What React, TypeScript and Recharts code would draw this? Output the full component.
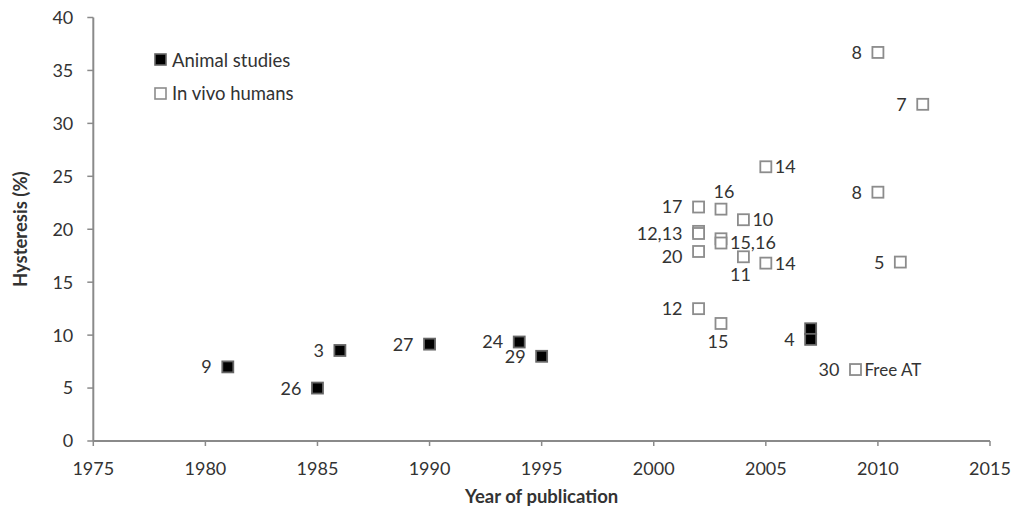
import React from 'react';
import { ScatterChart, Scatter, XAxis, YAxis, Label, Legend } from 'recharts';

const xTicks = [1975, 1980, 1985, 1990, 1995, 2000, 2005, 2010, 2015];
const yTicks = [0, 5, 10, 15, 20, 25, 30, 35, 40];

const seriesNames = ['Animal studies', 'In vivo humans'];

const animalYears = [1981, 1985, 1986, 1990, 1994, 1995, 2007, 2007];
const animalValues = [7.0, 5.0, 8.55, 9.15, 9.35, 8.0, 10.6, 9.6];
const animalLabels = ['9', '26', '3', '27', '24', '29', '', '4'];
const animalLabelSides = ['left', 'left', 'left', 'left', 'left', 'left', 'left', 'left'];

const humanYears = [2010, 2012, 2005, 2010, 2003, 2002, 2004, 2002, 2002, 2003, 2003, 2002, 2004, 2005, 2011, 2002, 2003, 2009];
const humanValues = [36.7, 31.8, 25.9, 23.5, 21.9, 22.1, 20.9, 19.8, 19.6, 19.1, 18.7, 17.9, 17.4, 16.8, 16.9, 12.5, 11.1, 6.75];
const humanLabels = ['8', '7', '14', '8', '16', '17', '10', '', '12,13', '', '15,16', '20', '11', '14', '5', '12', '15', '30'];
const humanLabelSides = ['left', 'left', 'right', 'left', 'top', 'left', 'right', 'left', 'left', 'right', 'right', 'leftBelow', 'bottom', 'right', 'left', 'left', 'bottom', 'left'];
const humanNotes = ['', '', '', '', '', '', '', '', '', '', '', '', '', '', '', '', '', 'Free AT'];

const animalData = animalYears.map((year, i) => ({
  year,
  value: animalValues[i],
  label: animalLabels[i],
  side: animalLabelSides[i],
  note: '',
}));

const humanData = humanYears.map((year, i) => ({
  year,
  value: humanValues[i],
  label: humanLabels[i],
  side: humanLabelSides[i],
  note: humanNotes[i],
}));

const FONT = 'Lato, "Open Sans", sans-serif';
const TEXT = '#333333';
const AXIS = '#8a8a8a';

function Marker(props: any) {
  const { cx, cy, payload, filled } = props;
  if (cx == null || cy == null) return null;
  const size = 11;
  let labelEl = null;
  if (payload && payload.label) {
    let x = cx;
    let y = cy;
    let anchor: any = 'middle';
    if (payload.side === 'left') {
      x = cx - 16;
      anchor = 'end';
    } else if (payload.side === 'leftBelow') {
      x = cx - 16;
      y = cy + 5;
      anchor = 'end';
    } else if (payload.side === 'right') {
      x = cx + 9;
      anchor = 'start';
    } else if (payload.side === 'top') {
      x = cx + 3;
      y = cy - 18;
    } else {
      x = cx - 3;
      y = cy + 18;
    }
    labelEl = (
      <text x={x} y={y} dy="0.36em" textAnchor={anchor} fontFamily={FONT} fontSize={18} fill={TEXT}>
        {payload.label}
      </text>
    );
  }
  let noteEl = null;
  if (payload && payload.note) {
    noteEl = (
      <text x={cx + 9} y={cy} dy="0.36em" textAnchor="start" fontFamily={FONT} fontSize={17} fill={TEXT}>
        {payload.note}
      </text>
    );
  }
  return (
    <g>
      <rect
        x={cx - size / 2}
        y={cy - size / 2}
        width={size}
        height={size}
        fill={filled ? '#000000' : '#ffffff'}
        stroke={filled ? '#666666' : '#8c8c8c'}
        strokeWidth={1.8}
      />
      {labelEl}
      {noteEl}
    </g>
  );
}

function LegendBox() {
  return (
    <div style={{ fontFamily: FONT, fontSize: 18.5, color: TEXT }}>
      {seriesNames.map((n, i) => (
        <div key={n} style={{ display: 'flex', alignItems: 'center', height: 33.5, whiteSpace: 'nowrap' }}>
          <svg width={13} height={13} style={{ display: 'block' }}>
            <rect
              x={1}
              y={1}
              width={11}
              height={11}
              fill={i === 0 ? '#000000' : '#ffffff'}
              stroke={i === 0 ? '#666666' : '#8c8c8c'}
              strokeWidth={1.6}
            />
          </svg>
          <span style={{ marginLeft: 5 }}>{n}</span>
        </div>
      ))}
    </div>
  );
}

function YTitle(props: any) {
  const vb = props.viewBox || { x: 0, y: 0, width: 0, height: 0 };
  const x = 20;
  const y = vb.y + vb.height / 2;
  return (
    <text
      x={x}
      y={y}
      transform={`rotate(-90 ${x} ${y})`}
      textAnchor="middle"
      dy="0.36em"
      fontFamily={FONT}
      fontSize={18.5}
      fontWeight="bold"
      fill={TEXT}
    >
      Hysteresis (%)
    </text>
  );
}

export default function App() {
  return (
    <div style={{ position: 'absolute', left: 0, top: 0, width: 1015, height: 512 }}>
      <ScatterChart width={1015} height={512} margin={{ top: 17.5, right: 25, bottom: 0, left: 0 }}>
        <XAxis
          type="number"
          dataKey="year"
          domain={[1975, 2015]}
          ticks={xTicks}
          interval={0}
          allowDataOverflow
          height={71}
          tickSize={5}
          tickMargin={16}
          axisLine={{ stroke: AXIS, strokeWidth: 2 }}
          tickLine={{ stroke: AXIS, strokeWidth: 1.5 }}
          tick={{ fill: TEXT, fontFamily: FONT, fontSize: 18 }}
        >
          <Label
            value="Year of publication"
            position="insideBottom"
            offset={9}
            fill={TEXT}
            fontFamily={FONT}
            fontSize={18.5}
            fontWeight="bold"
          />
        </XAxis>
        <YAxis
          type="number"
          dataKey="value"
          domain={[0, 40]}
          ticks={yTicks}
          interval={0}
          allowDataOverflow
          width={93.3}
          tickSize={6}
          tickMargin={14}
          axisLine={{ stroke: AXIS, strokeWidth: 2 }}
          tickLine={{ stroke: AXIS, strokeWidth: 1.5 }}
          tick={{ fill: TEXT, fontFamily: FONT, fontSize: 18 }}
        >
          <Label content={<YTitle />} />
        </YAxis>
        <Legend
          layout="vertical"
          align="center"
          verticalAlign="middle"
          wrapperStyle={{ left: 154, top: 43, width: 220 }}
          content={() => <LegendBox />}
        />
        <Scatter
          name={seriesNames[0]}
          data={animalData}
          isAnimationActive={false}
          shape={(p: any) => <Marker {...p} filled />}
        />
        <Scatter
          name={seriesNames[1]}
          data={humanData}
          isAnimationActive={false}
          shape={(p: any) => <Marker {...p} filled={false} />}
        />
      </ScatterChart>
    </div>
  );
}
